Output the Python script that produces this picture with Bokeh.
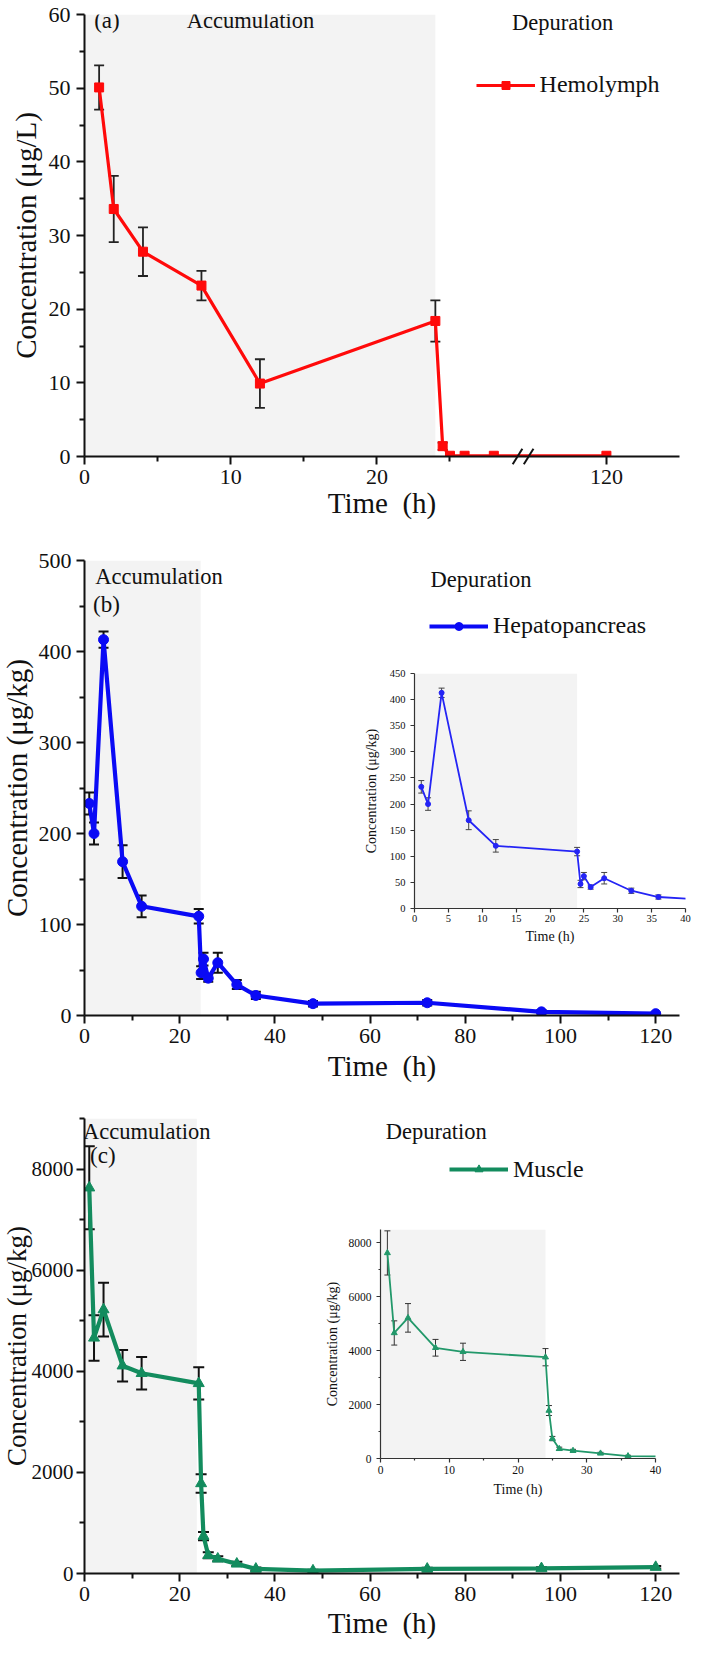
from bokeh.plotting import figure
from bokeh.models import (ColumnDataSource, Whisker, TeeHead, BoxAnnotation, Legend,
                          LegendItem, FixedTicker, Label, Range1d)
from bokeh.layouts import column
from bokeh.embed import file_html
from bokeh.resources import INLINE

FONT = "Liberation Serif"

# ---------------- data ----------------
hemo_time = [1, 2, 4, 8, 12, 24, 24.5, 25, 26, 28, 120]
hemo_conc = [50.1, 33.6, 27.8, 23.2, 9.9, 18.4, 1.4, 0.1, 0.1, 0.1, 0.1]
hemo_sd = [3.0, 4.5, 3.3, 2.0, 3.3, 2.8, 0.5, 0, 0, 0, 0]

tissue_time = [1, 2, 4, 8, 12, 24, 24.5, 25, 26, 28, 32, 36, 48, 72, 96, 120]
hepa_conc = [233, 200, 413, 169, 120, 109, 47, 62, 41, 58, 34, 22, 13, 14, 4, 2]
hepa_sd = [12, 12, 9, 18, 12, 8, 7, 7, 4, 11, 5, 4, 3, 3, 2, 1]
musc_conc = [7630, 4660, 5220, 4110, 3960, 3760, 1780, 740, 360, 290, 190, 90, 55, 90, 100, 125]
musc_sd = [820, 450, 530, 310, 320, 320, 185, 80, 60, 50, 40, 30, 20, 25, 25, 25]

hemo_y_ticks = [0, 10, 20, 30, 40, 50, 60]
hemo_x_tick_labels = [0, 10, 20, 120]
tissue_x_ticks = [0, 20, 40, 60, 80, 100, 120]
hepa_y_ticks = [0, 100, 200, 300, 400, 500]
musc_y_ticks = [0, 2000, 4000, 6000, 8000]
inset_hepa_x_ticks = [0, 5, 10, 15, 20, 25, 30, 35, 40]
inset_hepa_y_ticks = [0, 50, 100, 150, 200, 250, 300, 350, 400, 450]
inset_musc_x_ticks = [0, 10, 20, 30, 40]
inset_musc_y_ticks = [0, 2000, 4000, 6000, 8000]

shade_end_a = 24.0
shade_end_b = 24.4
shade_end_c = 23.6
shade_end_inset = 24.0

# broken time axis of panel (a): 30 h .. 114.3 h hidden
axis_break_at = 30.0
axis_resume_at = 114.3


def broken(t):
    return t if t <= axis_break_at else t - (axis_resume_at - axis_break_at)


RED = "#ff0a0a"
BLUE = "#0a0af5"
GREEN = "#138c5e"
BLUE_IN = "#2424f5"
GREEN_IN = "#22986a"
SHADE = "#f3f3f3"
TIME_MAIN = "Time \u00a0(h)"


def style_axes(p, tick_fs, title_fs, lw, maj_out, min_out, color, lab_stand_x, lab_stand_y,
               tick_stand_x, tick_stand_y):
    for ax in (p.xaxis[0], p.yaxis[0]):
        ax.axis_line_width = lw
        ax.axis_line_color = color
        ax.major_tick_line_width = lw
        ax.minor_tick_line_width = lw
        ax.major_tick_line_color = color
        ax.minor_tick_line_color = color
        ax.major_tick_out = maj_out
        ax.major_tick_in = 0
        ax.minor_tick_out = min_out
        ax.minor_tick_in = 0
        ax.major_label_text_font = FONT
        ax.major_label_text_font_size = tick_fs
        ax.major_label_text_color = "#111111"
        ax.axis_label_text_font = FONT
        ax.axis_label_text_font_size = title_fs
        ax.axis_label_text_font_style = "normal"
        ax.axis_label_text_color = "#111111"
    p.xaxis[0].axis_label_standoff = lab_stand_x
    p.yaxis[0].axis_label_standoff = lab_stand_y
    p.xaxis[0].major_label_standoff = tick_stand_x
    p.yaxis[0].major_label_standoff = tick_stand_y
    p.grid.visible = False
    p.outline_line_color = None


def err_source(xs, ys, sds, xmax=None):
    keep = [i for i in range(len(xs)) if sds[i] > 0 and (xmax is None or xs[i] <= xmax)]
    return ColumnDataSource(dict(
        x=[xs[i] for i in keep],
        lower=[ys[i] - sds[i] for i in keep],
        upper=[ys[i] + sds[i] for i in keep]))


def add_whisker(p, src, color, lw, cap):
    w = Whisker(base="x", lower="lower", upper="upper", source=src, dimension="height",
                line_color=color, line_width=lw,
                upper_head=TeeHead(size=cap, line_color=color, line_width=lw),
                lower_head=TeeHead(size=cap, line_color=color, line_width=lw))
    p.add_layout(w)


def add_text(p, x, y, text, size, align="center"):
    p.add_layout(Label(x=x, y=y, text=text, text_font=FONT, text_font_size=size,
                       text_align=align, text_baseline="middle", text_color="#111111"))


def add_legend(p, renderers, label, loc):
    leg = Legend(items=[LegendItem(label=label, renderers=renderers)], location=loc,
                 glyph_width=59, glyph_height=20, label_height=20, label_standoff=5,
                 label_text_font=FONT, label_text_font_size="24px", label_text_color="#111111",
                 padding=0, margin=0, spacing=0, border_line_alpha=0,
                 background_fill_alpha=0)
    p.add_layout(leg)


# ---------------- panel (a) hemolymph ----------------
hx = [broken(t) for t in hemo_time]
pa = figure(width=712, height=532, x_range=Range1d(0, 40.7), y_range=Range1d(0, 60),
            output_backend="svg", toolbar_location=None,
            min_border_left=92, min_border_right=1, min_border_top=14, min_border_bottom=76,
            x_axis_label=TIME_MAIN, y_axis_label="Concentration (μg/L)")
pa.margin = (0, 0, 0, -8)
style_axes(pa, "22px", "29px", 2, 8, 5, "#111111", 0, 4, 5, 6)
pa.xaxis[0].ticker = FixedTicker(ticks=[broken(t) for t in hemo_x_tick_labels],
                                 minor_ticks=[5, 15, 25])
pa.xaxis[0].major_label_overrides = {broken(t): str(t) for t in hemo_x_tick_labels}
pa.yaxis[0].ticker = FixedTicker(ticks=hemo_y_ticks, minor_ticks=[5, 15, 25, 35, 45, 55])
pa.add_layout(BoxAnnotation(left=0, right=shade_end_a, fill_color=SHADE, fill_alpha=1,
                            line_alpha=0, level="underlay"))
src_a = ColumnDataSource(dict(x=hx, y=hemo_conc))
ra_l = pa.line("x", "y", source=src_a, line_color=RED, line_width=3.2)
ra_p = pa.scatter("x", "y", source=src_a, marker="square", size=9, fill_color=RED,
                  line_color=RED)
add_whisker(pa, err_source(hx, hemo_conc, hemo_sd), "#222222", 1.8, 10)
# axis-break marks
bx = [axis_break_at - 0.38, axis_break_at + 0.38]
pa.segment(x0=[b - 0.33 for b in bx], y0=[-1.05, -1.05], x1=[b + 0.33 for b in bx],
           y1=[1.05, 1.05], line_color="#111111", line_width=2, level="overlay")
add_text(pa, 0.66, 59.2, "(a)", "23px", "left")
add_text(pa, 11.36, 59.2, "Accumulation", "22.5px")
add_text(pa, 32.7, 58.9, "Depuration", "22.5px")
add_legend(pa, [ra_l, ra_p], "Hemolymph", (391.6, 357.6))

# ---------------- panel (b) hepatopancreas ----------------
pb = figure(width=712, height=560, x_range=Range1d(0, 125), y_range=Range1d(0, 500),
            output_backend="svg", toolbar_location=None,
            min_border_left=92, min_border_right=1, min_border_top=28, min_border_bottom=77,
            x_axis_label=TIME_MAIN, y_axis_label="Concentration (μg/kg)")
pb.margin = (0, 0, 0, -8)
style_axes(pb, "22px", "29px", 2, 8, 5, "#111111", 4, 3, 5, 5)
pb.xaxis[0].ticker = FixedTicker(ticks=tissue_x_ticks, minor_ticks=[10, 30, 50, 70, 90, 110])
pb.yaxis[0].ticker = FixedTicker(ticks=hepa_y_ticks, minor_ticks=[50, 150, 250, 350, 450])
pb.add_layout(BoxAnnotation(left=0, right=shade_end_b, fill_color=SHADE, fill_alpha=1,
                            line_alpha=0, level="underlay"))
src_b = ColumnDataSource(dict(x=tissue_time, y=hepa_conc))
rb_l = pb.line("x", "y", source=src_b, line_color=BLUE, line_width=4.2)
rb_p = pb.scatter("x", "y", source=src_b, marker="circle", size=10, fill_color=BLUE,
                  line_color=BLUE)
add_whisker(pb, err_source(tissue_time, hepa_conc, hepa_sd), "#111111", 2, 10)
add_text(pb, 2.28, 482, "Accumulation", "22.5px", "left")
add_text(pb, 1.78, 451.7, "(b)", "23px", "left")
add_text(pb, 83.3, 479.2, "Depuration", "22.5px")
add_legend(pb, [rb_l, rb_p], "Hepatopancreas", (344.9, 375.7))

# inset (b)
pbi = figure(width=380, height=292, x_range=Range1d(0, 40), y_range=Range1d(0, 450),
             output_backend="svg", toolbar_location=None,
             min_border_left=56, min_border_right=12, min_border_top=13, min_border_bottom=44,
             x_axis_label="Time (h)", y_axis_label="Concentration (μg/kg)")
pbi.margin = (-432, 0, 140, 322)
pbi.border_fill_color = None
pbi.background_fill_color = None
style_axes(pbi, "10.5px", "14px", 1.2, 4, 2, "#333333", 4, 8, 2, 5)
pbi.xaxis[0].ticker = FixedTicker(ticks=inset_hepa_x_ticks, minor_ticks=[])
pbi.yaxis[0].ticker = FixedTicker(ticks=inset_hepa_y_ticks, minor_ticks=[])
pbi.add_layout(BoxAnnotation(left=0, right=shade_end_inset, fill_color=SHADE, fill_alpha=1,
                             line_alpha=0, level="underlay"))
pbi.line("x", "y", source=src_b, line_color=BLUE_IN, line_width=1.8)
pbi.scatter("x", "y", source=src_b, marker="circle", size=5, fill_color=BLUE_IN,
            line_color=BLUE_IN)
add_whisker(pbi, err_source(tissue_time, hepa_conc, hepa_sd, 40), "#444444", 1, 6)

# ---------------- panel (c) muscle ----------------
pc = figure(width=712, height=553, x_range=Range1d(0, 125), y_range=Range1d(0, 9000),
            output_backend="svg", toolbar_location=None,
            min_border_left=92, min_border_right=1, min_border_top=26, min_border_bottom=72,
            x_axis_label=TIME_MAIN, y_axis_label="Concentration (μg/kg)")
pc.margin = (0, 0, 0, -8)
style_axes(pc, "21px", "27px", 2, 8, 5, "#111111", 3, -3, 5, 3)
pc.xaxis[0].major_label_text_font_size = "22px"
pc.xaxis[0].axis_label_text_font_size = "29px"
pc.xaxis[0].ticker = FixedTicker(ticks=tissue_x_ticks, minor_ticks=[10, 30, 50, 70, 90, 110])
pc.yaxis[0].ticker = FixedTicker(ticks=musc_y_ticks, minor_ticks=[1000, 3000, 5000, 7000, 9000])
pc.add_layout(BoxAnnotation(left=0, right=shade_end_c, fill_color=SHADE, fill_alpha=1,
                            line_alpha=0, level="underlay"))
src_c = ColumnDataSource(dict(x=tissue_time, y=musc_conc))
rc_l = pc.line("x", "y", source=src_c, line_color=GREEN, line_width=4.2)
rc_p = pc.scatter("x", "y", source=src_c, marker="triangle", size=11, fill_color=GREEN,
                  line_color=GREEN)
add_whisker(pc, err_source(tissue_time, musc_conc, musc_sd), "#111111", 2, 11)
add_text(pc, 13.1, 8749, "Accumulation", "22.5px")
add_text(pc, 1.17, 8264, "(c)", "23px", "left")
add_text(pc, 73.9, 8752, "Depuration", "22.5px")
add_legend(pc, [rc_l, rc_p], "Muscle", (365, 390.5))

# inset (c)
pci = figure(width=384, height=287, x_range=Range1d(0, 40), y_range=Range1d(0, 8500),
             output_backend="svg", toolbar_location=None,
             min_border_left=61, min_border_right=17, min_border_top=12, min_border_bottom=46,
             x_axis_label="Time (h)", y_axis_label="Concentration (μg/kg)")
pci.margin = (-428, 0, 133, 288)
pci.border_fill_color = None
pci.background_fill_color = None
style_axes(pci, "11.5px", "14px", 1.2, 4, 2, "#333333", 5, 6, 3, 5)
pci.xaxis[0].ticker = FixedTicker(ticks=inset_musc_x_ticks, minor_ticks=[5, 15, 25, 35])
pci.yaxis[0].ticker = FixedTicker(ticks=inset_musc_y_ticks, minor_ticks=[1000, 3000, 5000, 7000])
pci.add_layout(BoxAnnotation(left=0, right=shade_end_inset, fill_color=SHADE, fill_alpha=1,
                             line_alpha=0, level="underlay"))
pci.line("x", "y", source=src_c, line_color=GREEN_IN, line_width=1.8)
pci.scatter("x", "y", source=src_c, marker="triangle", size=6, fill_color=GREEN_IN,
            line_color=GREEN_IN)
add_whisker(pci, err_source(tissue_time, musc_conc, musc_sd, 40), "#333333", 1, 6)

root = column(pa, pb, pbi, pc, pci)
open("out.html", "w").write(file_html(root, INLINE))
